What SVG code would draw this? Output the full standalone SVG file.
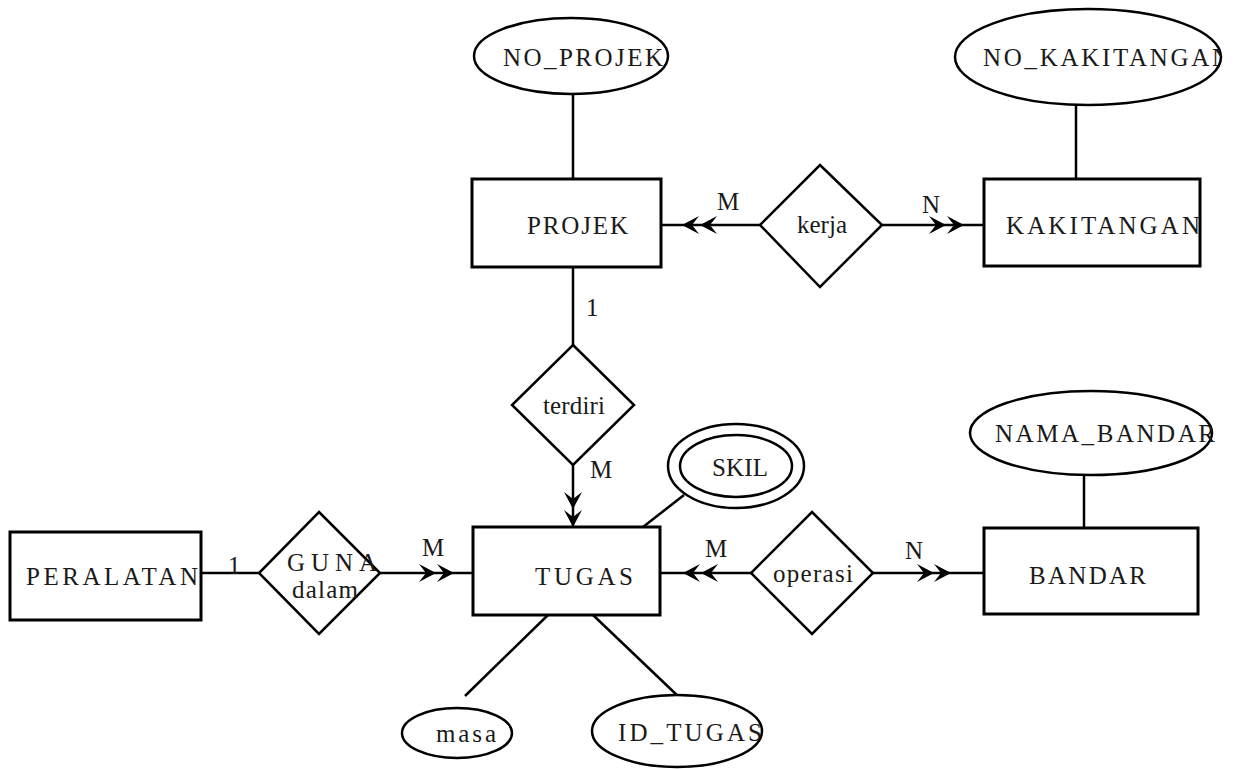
<svg xmlns="http://www.w3.org/2000/svg" width="1236" height="769" viewBox="0 0 1236 769">
<style>
.box{fill:#fff;stroke:#000;stroke-width:3}
.shape{fill:#fff;stroke:#000;stroke-width:2.5}
.ln{fill:none;stroke:#000;stroke-width:2.5}
</style>
<defs>
<path id="h" d="M0,0 L-17,-9 L-10,0 L-17,9 Z" fill="#000"/>
<clipPath id="ck"><ellipse cx="1088" cy="57" rx="133" ry="48"/></clipPath>
</defs>
<g id="connectors">
<line class="ln" x1="573" y1="95" x2="573" y2="179"/>
<line class="ln" x1="1076" y1="104" x2="1076" y2="179"/>
<line class="ln" x1="760" y1="225" x2="661" y2="225"/>
<use href="#h" transform="translate(682,225) rotate(180)"/>
<use href="#h" transform="translate(700,225) rotate(180)"/>
<line class="ln" x1="882" y1="225" x2="984" y2="225"/>
<use href="#h" transform="translate(946,225)"/>
<use href="#h" transform="translate(964,225)"/>
<line class="ln" x1="573" y1="267" x2="573" y2="345"/>
<line class="ln" x1="573" y1="465" x2="573" y2="527"/>
<use href="#h" transform="translate(573,509) rotate(90)"/>
<use href="#h" transform="translate(573,527) rotate(90)"/>
<line class="ln" x1="201" y1="573" x2="259" y2="573"/>
<line class="ln" x1="380" y1="573" x2="473" y2="573"/>
<use href="#h" transform="translate(436,573)"/>
<use href="#h" transform="translate(454,573)"/>
<line class="ln" x1="751" y1="573" x2="660" y2="573"/>
<use href="#h" transform="translate(683,573) rotate(180)"/>
<use href="#h" transform="translate(701,573) rotate(180)"/>
<line class="ln" x1="873" y1="573" x2="984" y2="573"/>
<use href="#h" transform="translate(934,573)"/>
<use href="#h" transform="translate(951,573)"/>
<line class="ln" x1="1084" y1="474" x2="1084" y2="528"/>
<line class="ln" x1="684" y1="495" x2="643" y2="527"/>
<line class="ln" x1="548" y1="615" x2="465" y2="696"/>
<line class="ln" x1="593" y1="615" x2="680" y2="698"/>
<text font-family="Liberation Serif" font-size="25" fill="#1a1a1a" x="717" y="210">M</text>
<text font-family="Liberation Serif" font-size="25" fill="#1a1a1a" x="922" y="213">N</text>
<text font-family="Liberation Serif" font-size="25" fill="#1a1a1a" x="586" y="316">1</text>
<text font-family="Liberation Serif" font-size="25" fill="#1a1a1a" x="590" y="478">M</text>
<text font-family="Liberation Serif" font-size="25" fill="#1a1a1a" x="228" y="574">1</text>
<text font-family="Liberation Serif" font-size="25" fill="#1a1a1a" x="422" y="556">M</text>
<text font-family="Liberation Serif" font-size="25" fill="#1a1a1a" x="705" y="557">M</text>
<text font-family="Liberation Serif" font-size="25" fill="#1a1a1a" x="905" y="559">N</text>
</g>
<g id="no_projek"><ellipse class="shape" cx="571" cy="56" rx="97" ry="38"/><text font-family="Liberation Serif" font-size="25" fill="#1a1a1a" x="503" y="66" textLength="160">NO_PROJEK</text></g>
<g id="no_kakitangan"><ellipse class="shape" cx="1088" cy="57" rx="133" ry="48"/><g clip-path="url(#ck)"><text font-family="Liberation Serif" font-size="25" fill="#1a1a1a" x="983" y="66" textLength="247">NO_KAKITANGAN</text></g></g>
<g id="projek"><rect class="box" x="472" y="179" width="189" height="88"/><text font-family="Liberation Serif" font-size="25" fill="#1a1a1a" x="527" y="234" textLength="101">PROJEK</text></g>
<g id="kerja"><polygon class="shape" points="820,165 882,225 820,287 760,225"/><text font-family="Liberation Serif" font-size="25" fill="#1a1a1a" x="797" y="233" textLength="50">kerja</text></g>
<g id="kakitangan"><rect class="box" x="984" y="179" width="216" height="87"/><text font-family="Liberation Serif" font-size="25" fill="#1a1a1a" x="1006" y="234" textLength="194">KAKITANGAN</text></g>
<g id="terdiri"><polygon class="shape" points="573,345 634,405 573,465 512,405"/><text font-family="Liberation Serif" font-size="25" fill="#1a1a1a" x="543" y="414" textLength="62">terdiri</text></g>
<g id="skil"><ellipse class="shape" cx="736" cy="466" rx="68" ry="42"/><ellipse class="shape" cx="736" cy="466" rx="56" ry="31"/><text font-family="Liberation Serif" font-size="25" fill="#1a1a1a" x="712" y="476" textLength="56">SKIL</text></g>
<g id="nama_bandar"><ellipse class="shape" cx="1091" cy="433" rx="121" ry="42"/><text font-family="Liberation Serif" font-size="25" fill="#1a1a1a" x="995" y="442" textLength="220">NAMA_BANDAR</text></g>
<g id="peralatan"><rect class="box" x="10" y="532" width="191" height="88"/><text font-family="Liberation Serif" font-size="25" fill="#1a1a1a" x="26" y="585" textLength="172">PERALATAN</text></g>
<g id="guna_dalam"><polygon class="shape" points="319,512 380,573 319,634 259,573"/><text font-family="Liberation Serif" font-size="25" fill="#1a1a1a" x="287" y="571" textLength="90">GUNA</text><text font-family="Liberation Serif" font-size="25" fill="#1a1a1a" x="292" y="598" textLength="66">dalam</text></g>
<g id="tugas"><rect class="box" x="473" y="527" width="187" height="88"/><text font-family="Liberation Serif" font-size="25" fill="#1a1a1a" x="535" y="585" textLength="98">TUGAS</text></g>
<g id="operasi"><polygon class="shape" points="812,512 873,573 812,634 751,573"/><text font-family="Liberation Serif" font-size="25" fill="#1a1a1a" x="773" y="582" textLength="80">operasi</text></g>
<g id="bandar"><rect class="box" x="984" y="528" width="214" height="86"/><text font-family="Liberation Serif" font-size="25" fill="#1a1a1a" x="1029" y="584" textLength="117">BANDAR</text></g>
<g id="masa"><ellipse class="shape" cx="457" cy="733" rx="55" ry="25"/><text font-family="Liberation Serif" font-size="25" fill="#1a1a1a" x="436" y="742" textLength="60">masa</text></g>
<g id="id_tugas"><ellipse class="shape" cx="677" cy="731" rx="85" ry="36"/><text font-family="Liberation Serif" font-size="25" fill="#1a1a1a" x="618" y="741" textLength="144">ID_TUGAS</text></g>
</svg>
